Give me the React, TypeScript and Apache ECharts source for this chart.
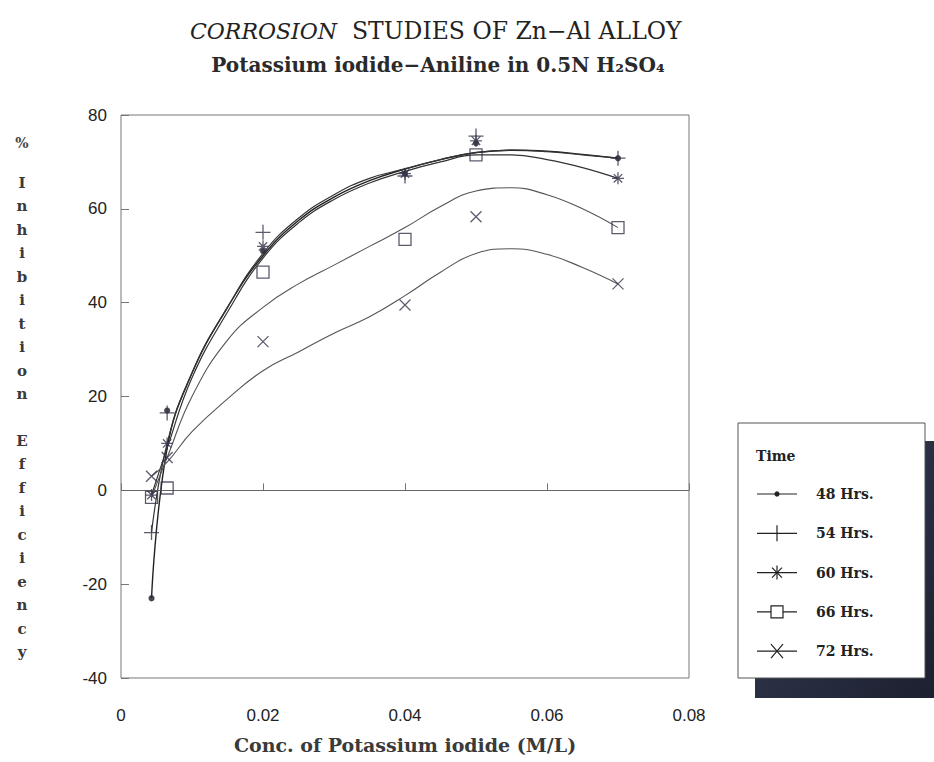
import React, { useEffect, useRef } from 'react';
import * as echarts from 'echarts';

// Measured concentrations (M/L)
const PX = [0.0043, 0.0065, 0.02, 0.04, 0.05, 0.07];
// % inhibition efficiency, measured points
const p48 = [-23, 17, 51, 67.5, 74, 70.8];
const p54 = [-9, 16.5, 55, 67, 75.5, 70.8];
const p60 = [-1, 10, 52, 67.5, 74.5, 66.5];
const p66 = [-1.5, 0.5, 46.5, 53.5, 71.5, 56];
const p72 = [3, 7, 31.7, 39.5, 58.3, 44];

// Fitted curves
const CX = [0.0043, 0.0065, 0.01, 0.015, 0.02, 0.025, 0.03, 0.035, 0.04, 0.045, 0.05, 0.055, 0.06, 0.065, 0.07];
const c48 = [-23, 9, 25, 39, 50, 57.5, 62.5, 66, 68.5, 70.5, 72, 72.5, 72.3, 71.6, 70.8];
const c54 = [-9, 10, 25, 39, 50.5, 58, 63, 66.5, 68.5, 70.5, 72, 72.5, 72.2, 71.5, 70.8];
const c60 = [-1, 9, 24, 38, 49.5, 57, 62, 65.5, 68, 70, 71.5, 71.5, 70.5, 68.8, 66.5];
const c66 = [-1.5, 7, 20, 32, 39, 44, 48, 52, 56, 60.5, 63.8, 64.5, 63, 60, 56];
const c72 = [3, 6, 12.5, 19.5, 25.5, 29.5, 33.5, 37, 41.5, 46.5, 50.5, 51.5, 50.3, 47.5, 44];

const SERIES_NAMES = ['48 Hrs.', '54 Hrs.', '60 Hrs.', '66 Hrs.', '72 Hrs.'];
const X_TICKS = ['0', '0.02', '0.04', '0.06', '0.08'];

const PLUS = 'path://M0,5L10,5M5,0L5,10';
const STAR = 'path://M0,5L10,5M5,0L5,10M1.5,1.5L8.5,8.5M1.5,8.5L8.5,1.5';
const CROSS = 'path://M0,0L10,10M0,10L10,0';
const SQUARE = 'path://M0,0L10,0L10,10L0,10Z';

const MARK = '#33334a';

function pts(ys: number[]) {
  return PX.map((x, i) => [x, ys[i]]);
}
function curve(ys: number[]) {
  return CX.map((x, i) => [x, ys[i]]);
}

function buildLegend() {
  const els: any[] = [];
  els.push({
    type: 'rect',
    shape: { x: 755, y: 441, width: 179, height: 257 },
    style: {
      fill: new echarts.graphic.LinearGradient(0, 0, 1, 1, [
        { offset: 0, color: '#3c4660' },
        { offset: 0.5, color: '#2a3044' },
        { offset: 1, color: '#1c2030' },
      ]),
    },
    z: 10,
  });
  els.push({
    type: 'rect',
    shape: { x: 738, y: 423, width: 187, height: 255 },
    style: { fill: '#fff', stroke: '#555', lineWidth: 1 },
    z: 11,
  });
  els.push({
    type: 'text',
    x: 756,
    y: 456,
    style: { text: 'Time', font: 'bold 14px "DejaVu Serif"', fill: '#222', verticalAlign: 'middle', align: 'left' },
    z: 12,
  });
  const s = { stroke: '#222', lineWidth: 1.2 };
  SERIES_NAMES.forEach((name, i) => {
    const y = 494 + i * 39.3;
    const cx = 777;
    els.push({ type: 'line', shape: { x1: 757, y1: y, x2: 797, y2: y }, style: s, z: 12 });
    if (i === 0) {
      els.push({ type: 'circle', shape: { cx, cy: y, r: 2.6 }, style: { fill: '#222' }, z: 13 });
    } else if (i === 1) {
      els.push({ type: 'line', shape: { x1: cx, y1: y - 8, x2: cx, y2: y + 8 }, style: s, z: 13 });
    } else if (i === 2) {
      els.push({ type: 'line', shape: { x1: cx, y1: y - 7, x2: cx, y2: y + 7 }, style: s, z: 13 });
      els.push({ type: 'line', shape: { x1: cx - 5, y1: y - 5, x2: cx + 5, y2: y + 5 }, style: s, z: 13 });
      els.push({ type: 'line', shape: { x1: cx - 5, y1: y + 5, x2: cx + 5, y2: y - 5 }, style: s, z: 13 });
    } else if (i === 3) {
      els.push({ type: 'rect', shape: { x: cx - 6, y: y - 6, width: 12, height: 12 }, style: { fill: '#fff', stroke: '#222', lineWidth: 1.2 }, z: 13 });
    } else {
      els.push({ type: 'line', shape: { x1: cx - 6, y1: y - 7, x2: cx + 6, y2: y + 7 }, style: s, z: 13 });
      els.push({ type: 'line', shape: { x1: cx - 6, y1: y + 7, x2: cx + 6, y2: y - 7 }, style: s, z: 13 });
    }
    els.push({
      type: 'text',
      x: 816,
      y,
      style: { text: name, font: 'bold 14px "DejaVu Serif"', fill: '#222', verticalAlign: 'middle', align: 'left' },
      z: 12,
    });
  });
  return els;
}

export default function App() {
  const ref = useRef<HTMLDivElement>(null);
  useEffect(() => {
    const chart = echarts.init(ref.current!, null, { renderer: 'svg' });
    const markerSeries = (name: string, data: number[][], symbol: string, size: number, fill: string) => ({
      name,
      type: 'scatter',
      data,
      symbol,
      symbolSize: size,
      itemStyle: { color: fill, borderColor: MARK, borderWidth: 1.3 },
      z: 5,
    });
    const lineSeries = (name: string, data: number[][], color: string, width: number) => ({
      name: name + ' fit',
      type: 'line',
      data,
      smooth: 0.45,
      symbol: 'none',
      lineStyle: { color, width },
      z: 3,
    });
    const option: any = {
      animation: false,
      backgroundColor: '#fff',
      grid: { left: 121, top: 115, width: 568, height: 563, show: true, borderColor: '#777', borderWidth: 1, backgroundColor: 'transparent' },
      xAxis: {
        type: 'value',
        min: 0,
        max: 0.08,
        interval: 0.02,
        axisLine: { show: false },
        axisTick: { show: true, inside: true, length: 7, lineStyle: { color: '#777' } },
        splitLine: { show: false },
        axisLabel: {
          margin: 29,
          fontSize: 17,
          color: '#222',
          fontFamily: 'Liberation Sans',
          formatter: (v: number) => X_TICKS[Math.round(v / 0.02)] ?? String(v),
        },
        name: 'Conc. of Potassium iodide (M/L)',
        nameLocation: 'middle',
        nameGap: 57,
        nameTextStyle: { fontSize: 19, fontWeight: 'bold', fontFamily: 'DejaVu Serif', color: '#3a3a3a' },
      },
      yAxis: {
        type: 'value',
        min: -40,
        max: 80,
        interval: 20,
        axisLine: { show: false },
        axisTick: { show: true, inside: true, length: 8, lineStyle: { color: '#777' } },
        splitLine: { show: false },
        axisLabel: { margin: 14, fontSize: 17, color: '#222', fontFamily: 'Liberation Sans' },
      },
      graphic: [
        {
          type: 'text',
          x: 190,
          y: 31,
          style: { text: 'CORROSION', font: 'italic 22px "DejaVu Serif"', fill: '#222', verticalAlign: 'middle', align: 'left' },
        },
        {
          type: 'text',
          x: 352,
          y: 31,
          style: { text: 'STUDIES OF Zn−Al ALLOY', font: '23.5px "DejaVu Serif"', fill: '#222', verticalAlign: 'middle', align: 'left' },
        },
        {
          type: 'text',
          x: 438,
          y: 65,
          style: { text: 'Potassium iodide−Aniline in 0.5N H₂SO₄', font: 'bold 20px "DejaVu Serif"', fill: '#2a2a2a', verticalAlign: 'middle', align: 'center' },
        },
        {
          type: 'text',
          x: 22,
          y: 143,
          style: { text: '%', font: 'bold 14px "DejaVu Serif"', fill: '#444', verticalAlign: 'middle', align: 'center' },
        },
        {
          type: 'text',
          x: 22,
          y: 171.3,
          style: {
            text: 'I\nn\nh\ni\nb\ni\nt\ni\no\nn\n \nE\nf\nf\ni\nc\ni\ne\nn\nc\ny',
            font: 'bold 15px "DejaVu Serif"',
            lineHeight: 23.45,
            fill: '#3a3a3a',
            verticalAlign: 'top',
            align: 'center',
          },
        },
        ...buildLegend(),
      ],
      series: [
        lineSeries(SERIES_NAMES[0], curve(c48), '#222', 1.4),
        lineSeries(SERIES_NAMES[1], curve(c54), '#333', 1.2),
        lineSeries(SERIES_NAMES[2], curve(c60), '#333', 1.2),
        lineSeries(SERIES_NAMES[3], curve(c66), '#555', 1.1),
        lineSeries(SERIES_NAMES[4], curve(c72), '#555', 1.1),
        {
          ...markerSeries(SERIES_NAMES[0], pts(p48), 'circle', 5, '#222'),
          markLine: {
            silent: true,
            symbol: 'none',
            label: { show: false },
            lineStyle: { color: '#666', width: 1, type: 'solid' },
            data: [{ yAxis: 0 }],
          },
        },
        markerSeries(SERIES_NAMES[1], pts(p54), PLUS, 15, 'rgba(0,0,0,0)'),
        markerSeries(SERIES_NAMES[2], pts(p60), STAR, 12, 'rgba(0,0,0,0)'),
        markerSeries(SERIES_NAMES[3], pts(p66), SQUARE, 12, 'rgba(0,0,0,0)'),
        markerSeries(SERIES_NAMES[4], pts(p72), CROSS, 11, 'rgba(0,0,0,0)'),
      ],
    };
    chart.setOption(option);
    return () => chart.dispose();
  }, []);
  return <div ref={ref} style={{ position: 'fixed', left: 0, top: 0, width: 934, height: 762, background: '#fff' }} />;
}
